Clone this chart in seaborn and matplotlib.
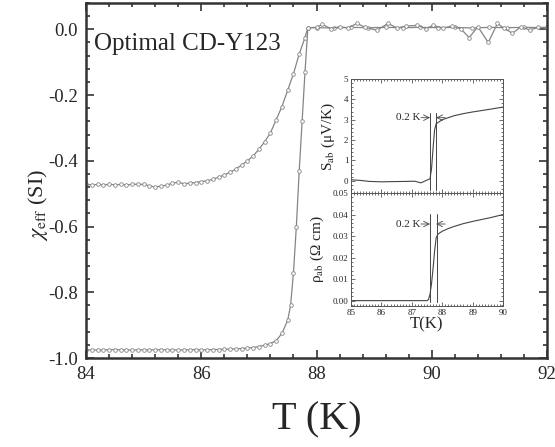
import matplotlib
matplotlib.use('Agg')
import matplotlib.pyplot as plt
from matplotlib.ticker import AutoMinorLocator, FormatStrFormatter
import numpy as np
import pandas as pd
import seaborn as sns

# main panel: effective susceptibility, two curves
t_low = [84.0, 84.1, 84.2, 84.3, 84.4, 84.5, 84.6, 84.7, 84.8, 84.9,
         85.0, 85.1, 85.2, 85.3, 85.4, 85.5, 85.6, 85.7, 85.8, 85.9,
         86.0, 86.1, 86.2, 86.3, 86.4, 86.5, 86.6, 86.7, 86.8, 86.9,
         87.0, 87.1, 87.2, 87.3, 87.4, 87.5, 87.55, 87.6, 87.65, 87.7,
         87.75, 87.8, 87.85, 88.0, 88.3, 88.6, 88.9, 89.2, 89.5, 89.8,
         90.1, 90.4, 90.7, 91.0, 91.3, 91.6, 92.0]
chi_low = [-0.975, -0.975, -0.976, -0.975, -0.975, -0.974, -0.975, -0.975, -0.976, -0.975,
           -0.975, -0.975, -0.975, -0.974, -0.975, -0.975, -0.976, -0.975, -0.975, -0.974,
           -0.975, -0.975, -0.974, -0.974, -0.973, -0.973, -0.972, -0.971, -0.970, -0.968,
           -0.965, -0.961, -0.956, -0.947, -0.925, -0.885, -0.84, -0.74, -0.60, -0.43,
           -0.28, -0.13, 0.005, 0.005, 0.004, 0.006, 0.005, 0.006, 0.005, 0.006,
           0.005, 0.006, 0.004, 0.006, 0.005, 0.006, 0.005]

t_up = [84.0, 84.1, 84.2, 84.3, 84.4, 84.5, 84.6, 84.7, 84.8, 84.9,
        85.0, 85.1, 85.2, 85.3, 85.4, 85.5, 85.6, 85.7, 85.8, 85.9,
        86.0, 86.1, 86.2, 86.3, 86.4, 86.5, 86.6, 86.7, 86.8, 86.9,
        87.0, 87.1, 87.2, 87.3, 87.4, 87.5, 87.6, 87.7, 87.8, 87.85,
        88.0, 88.1, 88.25, 88.4, 88.55, 88.7, 88.85, 89.05, 89.24, 89.4,
        89.55, 89.75, 89.9, 90.02, 90.2, 90.35, 90.5, 90.65, 90.8, 90.98,
        91.14, 91.25, 91.4, 91.55, 91.7, 91.85, 92.0]
chi_up = [-0.472, -0.473, -0.472, -0.473, -0.472, -0.473, -0.472, -0.473, -0.472, -0.471,
          -0.472, -0.476, -0.480, -0.477, -0.474, -0.468, -0.465, -0.470, -0.468, -0.466,
          -0.463, -0.461, -0.456, -0.450, -0.443, -0.435, -0.425, -0.413, -0.400, -0.385,
          -0.365, -0.342, -0.315, -0.275, -0.235, -0.185, -0.135, -0.075, -0.025, 0.005,
          0.006, 0.015, 0.002, 0.008, 0.004, 0.018, 0.006, -0.003, 0.018, 0.004,
          0.010, 0.012, 0.002, 0.012, 0.004, 0.010, 0.002, -0.025, 0.008, -0.040,
          0.018, 0.004, -0.012, 0.008, -0.002, 0.006, 0.006]

# inset: thermopower S_ab
t_s = [85.0, 85.3, 85.6, 86.0, 86.4, 86.8, 87.1, 87.3, 87.45, 87.6, 87.65, 87.7,
       87.75, 87.8, 87.9, 88.0, 88.2, 88.4, 88.7, 89.0, 89.3, 89.6, 90.0]
s_ab = [0.05, 0.02, -0.03, -0.05, -0.04, -0.03, -0.02, -0.1, 0.0, 0.1, 0.6, 1.6,
        2.5, 2.8, 2.9, 3.0, 3.1, 3.2, 3.3, 3.38, 3.45, 3.52, 3.62]

# inset: resistivity rho_ab
t_r = [85.0, 85.5, 86.0, 86.5, 87.0, 87.5, 87.55, 87.6, 87.65, 87.7, 87.75,
       87.8, 87.85, 87.9, 88.0, 88.2, 88.4, 88.7, 89.0, 89.3, 89.6, 90.0]
rho_ab = [0.0, 0.0, 0.0, 0.0, 0.0, 0.0, 0.0005, 0.003, 0.008, 0.015, 0.023,
          0.029, 0.0307, 0.0313, 0.0322, 0.0335, 0.0345, 0.0358, 0.0368, 0.0377, 0.0386, 0.0400]

tc_lines = [87.6, 87.8]  # the two vertical markers, 0.2 K apart

sns.set_style('ticks')
plt.rcParams['font.family'] = ['Liberation Serif', 'DejaVu Serif']
plt.rcParams['mathtext.fontset'] = 'stix'
plt.rcParams['axes.unicode_minus'] = False

fig = plt.figure(figsize=(5.55, 4.47), dpi=100)

ax = fig.add_axes([0.155, 0.199, 0.8306, 0.7942])

grey = '#858585'
for tt, cc in [(t_low, chi_low), (t_up, chi_up)]:
    sns.lineplot(x=tt, y=cc, ax=ax, estimator=None, sort=False, color=grey, lw=0.9,
                 marker='o', markersize=2.6, markerfacecolor='white', markeredgecolor=grey,
                 markeredgewidth=0.6)

ax.set_xlim(84, 92)
ax.set_ylim(-1.0, 0.08)
ax.set_xticks([84, 86, 88, 90, 92])
ax.set_yticks([-1.0, -0.8, -0.6, -0.4, -0.2, 0.0])
ax.yaxis.set_major_formatter(FormatStrFormatter('%.1f'))
ax.xaxis.set_minor_locator(AutoMinorLocator(5))
ax.yaxis.set_minor_locator(AutoMinorLocator(5))
ax.tick_params(which='both', direction='in', top=True, right=True, labelsize=13.5, width=1.2, color='#333333')
ax.tick_params(which='major', length=6, pad=6)
ax.tick_params(which='minor', length=3)
for sp in ax.spines.values():
    sp.set_linewidth(1.8)
    sp.set_color('#333333')

ax.set_xlabel('T (K)', fontsize=29, labelpad=13)
ax.set_ylabel(r'$\chi_{\mathrm{eff}}$ (SI)', fontsize=16)
ax.yaxis.set_label_coords(-0.078, 0.43)
ax.text(0.018, 0.886, 'Optimal CD-Y123', transform=ax.transAxes, fontsize=18, va='center', ha='left')

# inset panels
ax_s = fig.add_axes([0.6324, 0.5682, 0.2739, 0.2551])
ax_r = fig.add_axes([0.6324, 0.3154, 0.2739, 0.2528], sharex=ax_s)

ink = '#444444'
sns.lineplot(x=t_s, y=s_ab, ax=ax_s, estimator=None, sort=False, color=ink, lw=0.8)
sns.lineplot(x=t_r, y=rho_ab, ax=ax_r, estimator=None, sort=False, color=ink, lw=0.8)

ax_s.set_ylim(-0.6, 5)
ax_s.set_yticks([0, 1, 2, 3, 4, 5])
ax_r.set_ylim(-0.0025, 0.05)
ax_r.set_yticks([0.0, 0.01, 0.02, 0.03, 0.04, 0.05])
ax_r.yaxis.set_major_formatter(FormatStrFormatter('%.2f'))
ax_r.set_xlim(85, 90)
ax_r.set_xticks([85, 86, 87, 88, 89, 90])

for a in (ax_s, ax_r):
    a.xaxis.set_minor_locator(AutoMinorLocator(10))
    a.yaxis.set_minor_locator(AutoMinorLocator(5))
    a.tick_params(which='both', direction='in', top=True, right=True, labelsize=6.5, width=0.6,
                  color='#555555', pad=2)
    a.tick_params(which='major', length=3)
    a.tick_params(which='minor', length=1.5)
    for sp in a.spines.values():
        sp.set_linewidth(0.7)
        sp.set_color('#555555')
ax_s.tick_params(labelbottom=False)

# 0.2 K markers
for tc in tc_lines:
    ax_s.plot([tc, tc], [-0.45, 3.35], color=ink, lw=0.7, clip_on=False)
    ax_r.plot([tc + (0.02 if tc > 87.7 else 0), tc + (0.02 if tc > 87.7 else 0)],
              [-0.0005, 0.0403], color=ink, lw=0.7)
for a, yy in [(ax_s, 3.1), (ax_r, 0.0356)]:
    a.annotate('', xy=(tc_lines[0], yy), xytext=(87.3, yy),
               arrowprops=dict(arrowstyle='->', lw=0.6, color=ink, shrinkA=0, shrinkB=0))
    a.annotate('', xy=(tc_lines[1], yy), xytext=(88.1, yy),
               arrowprops=dict(arrowstyle='->', lw=0.6, color=ink, shrinkA=0, shrinkB=0))
    a.text(87.28, yy, '0.2 K', fontsize=8, ha='right', va='center')

ax_s.set_ylabel(r'S$_{\mathrm{ab}}$ (μV/K)', fontsize=11, labelpad=5)
ax_r.set_ylabel(r'ρ$_{\mathrm{ab}}$ (Ω cm)', fontsize=11, labelpad=5)
ax_r.set_xlabel('T(K)', fontsize=12, labelpad=0)

fig.savefig('out.png', dpi=100)
